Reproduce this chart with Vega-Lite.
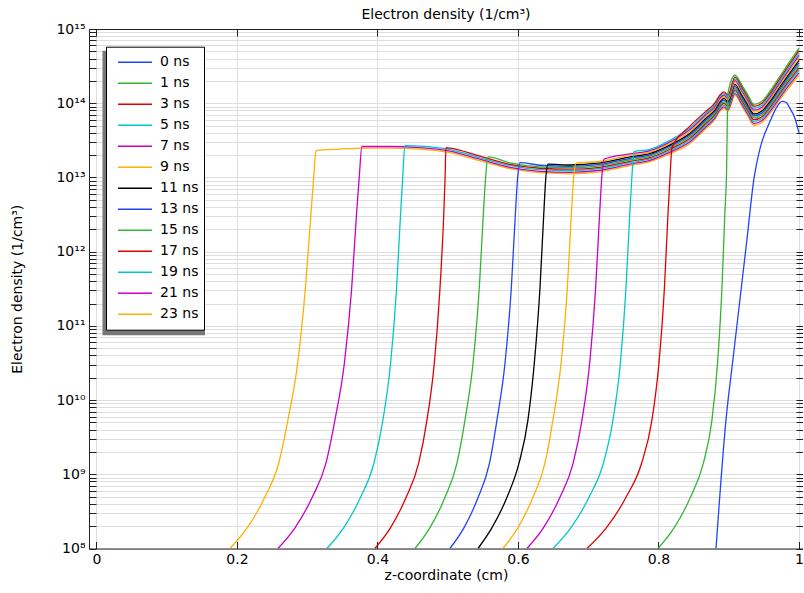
{
"$schema":"https://vega.github.io/schema/vega-lite/v6.json",
"width":714,"height":519.5,
"autosize":{"type":"none"},
"padding":{"left":89,"top":29,"right":0,"bottom":44.5},
"background":"white",
"title":{"text":"Electron density (1/cm³)","font":"DejaVu Sans","fontSize":14,"fontWeight":"normal","color":"#000","offset":0},
"config":{
 "font":"DejaVu Sans",
 "view":{"stroke":null},
 "axis":{"labelFont":"DejaVu Sans","labelFontSize":14,"labelColor":"#000","titleFont":"DejaVu Sans","titleFontSize":14,"titleFontWeight":"normal","titleColor":"#000","domainColor":"#222","domainWidth":1,"tickColor":"#222","tickWidth":1,"tickSize":-7,"labelPadding":11,"gridColor":"#dedede","gridWidth":1,"labelOverlap":false,"labelFlush":false},
 "legend":{"orient":"none","legendX":17,"legendY":17.7,"symbolType":"stroke","symbolSize":1156,"symbolStrokeWidth":1.5,"symbolOffset":6,"labelOffset":7,"labelFont":"DejaVu Sans","labelFontSize":14,"labelColor":"#000","clipHeight":21,"rowPadding":0,"padding":5,"fillColor":"white","strokeColor":"#000"}
},
"datasets":{"d":[
{"t":"23 ns","z":0.19,"n":1e8},{"t":"23 ns","z":0.2149,"n":1.91e8},{"t":"23 ns","z":0.2397,"n":4.9e8},{"t":"23 ns","z":0.2595,"n":1.41e9},{"t":"23 ns","z":0.2726,"n":5.37e9},{"t":"23 ns","z":0.2865,"n":3.16e10},{"t":"23 ns","z":0.2974,"n":3.16e11},{"t":"23 ns","z":0.3053,"n":3.16e12},{"t":"23 ns","z":0.3093,"n":1e13},{"t":"23 ns","z":0.3125,"n":2.3e13},{"t":"23 ns","z":0.3466,"n":2.41e13},{"t":"23 ns","z":0.3779,"n":2.49e13},{"t":"23 ns","z":0.4178,"n":2.49e13},{"t":"23 ns","z":0.4605,"n":2.41e13},{"t":"23 ns","z":0.5032,"n":2.16e13},{"t":"23 ns","z":0.5459,"n":1.68e13},{"t":"23 ns","z":0.5886,"n":1.31e13},{"t":"23 ns","z":0.6313,"n":1.16e13},{"t":"23 ns","z":0.674,"n":1.12e13},{"t":"23 ns","z":0.7167,"n":1.19e13},{"t":"23 ns","z":0.7594,"n":1.44e13},{"t":"23 ns","z":0.7879,"n":1.63e13},{"t":"23 ns","z":0.8164,"n":2.09e13},{"t":"23 ns","z":0.8448,"n":2.86e13},{"t":"23 ns","z":0.8662,"n":4.43e13},{"t":"23 ns","z":0.8804,"n":6.04e13},{"t":"23 ns","z":0.8875,"n":7.76e13},{"t":"23 ns","z":0.8932,"n":8.51e13},{"t":"23 ns","z":0.8989,"n":7.76e13},{"t":"23 ns","z":0.9089,"n":1.28e14},{"t":"23 ns","z":0.9189,"n":9.06e13},{"t":"23 ns","z":0.9274,"n":6.64e13},{"t":"23 ns","z":0.9359,"n":5.01e13},{"t":"23 ns","z":0.9473,"n":5.51e13},{"t":"23 ns","z":0.9587,"n":7.29e13},{"t":"23 ns","z":0.973,"n":1.13e14},{"t":"23 ns","z":0.9872,"n":1.69e14},{"t":"23 ns","z":1.0,"n":2.38e14},
{"t":"21 ns","z":0.2584,"n":1e8},{"t":"21 ns","z":0.2829,"n":1.91e8},{"t":"21 ns","z":0.3072,"n":4.9e8},{"t":"21 ns","z":0.3267,"n":1.41e9},{"t":"21 ns","z":0.3395,"n":5.37e9},{"t":"21 ns","z":0.353,"n":3.16e10},{"t":"21 ns","z":0.3633,"n":3.16e11},{"t":"21 ns","z":0.3702,"n":3.16e12},{"t":"21 ns","z":0.3741,"n":1e13},{"t":"21 ns","z":0.3779,"n":2.61e13},{"t":"21 ns","z":0.4178,"n":2.61e13},{"t":"21 ns","z":0.4605,"n":2.52e13},{"t":"21 ns","z":0.5032,"n":2.26e13},{"t":"21 ns","z":0.5459,"n":1.76e13},{"t":"21 ns","z":0.5886,"n":1.37e13},{"t":"21 ns","z":0.6313,"n":1.21e13},{"t":"21 ns","z":0.674,"n":1.17e13},{"t":"21 ns","z":0.7167,"n":1.25e13},{"t":"21 ns","z":0.7594,"n":1.51e13},{"t":"21 ns","z":0.7879,"n":1.7e13},{"t":"21 ns","z":0.8164,"n":2.19e13},{"t":"21 ns","z":0.8448,"n":3.02e13},{"t":"21 ns","z":0.8662,"n":4.67e13},{"t":"21 ns","z":0.8804,"n":6.35e13},{"t":"21 ns","z":0.8875,"n":8.17e13},{"t":"21 ns","z":0.8932,"n":8.95e13},{"t":"21 ns","z":0.8989,"n":8.17e13},{"t":"21 ns","z":0.9089,"n":1.35e14},{"t":"21 ns","z":0.9189,"n":9.62e13},{"t":"21 ns","z":0.9274,"n":7.05e13},{"t":"21 ns","z":0.9359,"n":5.32e13},{"t":"21 ns","z":0.9473,"n":5.85e13},{"t":"21 ns","z":0.9587,"n":7.76e13},{"t":"21 ns","z":0.973,"n":1.2e14},{"t":"21 ns","z":0.9872,"n":1.82e14},{"t":"21 ns","z":1.0,"n":2.57e14},
{"t":"19 ns","z":0.3281,"n":1e8},{"t":"19 ns","z":0.3521,"n":1.91e8},{"t":"19 ns","z":0.376,"n":4.9e8},{"t":"19 ns","z":0.3951,"n":1.41e9},{"t":"19 ns","z":0.4078,"n":5.37e9},{"t":"19 ns","z":0.4188,"n":3.16e10},{"t":"19 ns","z":0.4272,"n":3.16e11},{"t":"19 ns","z":0.4329,"n":3.16e12},{"t":"19 ns","z":0.436,"n":1e13},{"t":"19 ns","z":0.4391,"n":2.68e13},{"t":"19 ns","z":0.4605,"n":2.64e13},{"t":"19 ns","z":0.5032,"n":2.37e13},{"t":"19 ns","z":0.5459,"n":1.84e13},{"t":"19 ns","z":0.5886,"n":1.44e13},{"t":"19 ns","z":0.6313,"n":1.27e13},{"t":"19 ns","z":0.674,"n":1.23e13},{"t":"19 ns","z":0.7167,"n":1.31e13},{"t":"19 ns","z":0.7594,"n":1.58e13},{"t":"19 ns","z":0.7879,"n":1.78e13},{"t":"19 ns","z":0.8164,"n":2.29e13},{"t":"19 ns","z":0.8448,"n":3.19e13},{"t":"19 ns","z":0.8662,"n":4.93e13},{"t":"19 ns","z":0.8804,"n":6.68e13},{"t":"19 ns","z":0.8875,"n":8.59e13},{"t":"19 ns","z":0.8932,"n":9.42e13},{"t":"19 ns","z":0.8989,"n":8.59e13},{"t":"19 ns","z":0.9089,"n":1.43e14},{"t":"19 ns","z":0.9189,"n":1.02e14},{"t":"19 ns","z":0.9274,"n":7.48e13},{"t":"19 ns","z":0.9359,"n":5.65e13},{"t":"19 ns","z":0.9473,"n":6.21e13},{"t":"19 ns","z":0.9587,"n":8.26e13},{"t":"19 ns","z":0.973,"n":1.29e14},{"t":"19 ns","z":0.9872,"n":1.95e14},{"t":"19 ns","z":1.0,"n":2.78e14},
{"t":"17 ns","z":0.3964,"n":1e8},{"t":"17 ns","z":0.4187,"n":1.91e8},{"t":"17 ns","z":0.4409,"n":4.9e8},{"t":"17 ns","z":0.4587,"n":1.41e9},{"t":"17 ns","z":0.4705,"n":5.37e9},{"t":"17 ns","z":0.481,"n":3.16e10},{"t":"17 ns","z":0.489,"n":3.16e11},{"t":"17 ns","z":0.4944,"n":3.16e12},{"t":"17 ns","z":0.4963,"n":1e13},{"t":"17 ns","z":0.4975,"n":2.51e13},{"t":"17 ns","z":0.5032,"n":2.48e13},{"t":"17 ns","z":0.5459,"n":1.93e13},{"t":"17 ns","z":0.5886,"n":1.5e13},{"t":"17 ns","z":0.6313,"n":1.33e13},{"t":"17 ns","z":0.674,"n":1.29e13},{"t":"17 ns","z":0.7167,"n":1.37e13},{"t":"17 ns","z":0.7594,"n":1.65e13},{"t":"17 ns","z":0.7879,"n":1.85e13},{"t":"17 ns","z":0.8164,"n":2.4e13},{"t":"17 ns","z":0.8448,"n":3.37e13},{"t":"17 ns","z":0.8662,"n":5.2e13},{"t":"17 ns","z":0.8804,"n":7.05e13},{"t":"17 ns","z":0.8875,"n":9.06e13},{"t":"17 ns","z":0.8932,"n":9.93e13},{"t":"17 ns","z":0.8989,"n":9.06e13},{"t":"17 ns","z":0.9089,"n":1.51e14},{"t":"17 ns","z":0.9189,"n":1.08e14},{"t":"17 ns","z":0.9274,"n":7.94e13},{"t":"17 ns","z":0.9359,"n":6.0e13},{"t":"17 ns","z":0.9473,"n":6.59e13},{"t":"17 ns","z":0.9587,"n":8.79e13},{"t":"17 ns","z":0.973,"n":1.37e14},{"t":"17 ns","z":0.9872,"n":2.09e14},{"t":"17 ns","z":1.0,"n":3.0e14},
{"t":"15 ns","z":0.4534,"n":1e8},{"t":"15 ns","z":0.4748,"n":1.91e8},{"t":"15 ns","z":0.4962,"n":4.9e8},{"t":"15 ns","z":0.5132,"n":1.41e9},{"t":"15 ns","z":0.5246,"n":5.37e9},{"t":"15 ns","z":0.5361,"n":3.16e10},{"t":"15 ns","z":0.5449,"n":3.16e11},{"t":"15 ns","z":0.5507,"n":3.16e12},{"t":"15 ns","z":0.554,"n":1e13},{"t":"15 ns","z":0.5573,"n":1.89e13},{"t":"15 ns","z":0.5886,"n":1.57e13},{"t":"15 ns","z":0.6313,"n":1.39e13},{"t":"15 ns","z":0.674,"n":1.35e13},{"t":"15 ns","z":0.7167,"n":1.43e13},{"t":"15 ns","z":0.7594,"n":1.73e13},{"t":"15 ns","z":0.7879,"n":1.94e13},{"t":"15 ns","z":0.8164,"n":2.51e13},{"t":"15 ns","z":0.8448,"n":3.56e13},{"t":"15 ns","z":0.8662,"n":5.5e13},{"t":"15 ns","z":0.8804,"n":7.41e13},{"t":"15 ns","z":0.8875,"n":9.53e13},{"t":"15 ns","z":0.8932,"n":1.04e14},{"t":"15 ns","z":0.8989,"n":9.53e13},{"t":"15 ns","z":0.9089,"n":1.6e14},{"t":"15 ns","z":0.9189,"n":1.15e14},{"t":"15 ns","z":0.9274,"n":8.41e13},{"t":"15 ns","z":0.9359,"n":6.35e13},{"t":"15 ns","z":0.9473,"n":6.98e13},{"t":"15 ns","z":0.9587,"n":9.35e13},{"t":"15 ns","z":0.973,"n":1.46e14},{"t":"15 ns","z":0.9872,"n":2.24e14},{"t":"15 ns","z":1.0,"n":3.24e14},
{"t":"13 ns","z":0.5032,"n":1e8},{"t":"13 ns","z":0.5233,"n":1.91e8},{"t":"13 ns","z":0.5434,"n":4.9e8},{"t":"13 ns","z":0.5595,"n":1.41e9},{"t":"13 ns","z":0.5701,"n":5.37e9},{"t":"13 ns","z":0.5816,"n":3.16e10},{"t":"13 ns","z":0.5905,"n":3.16e11},{"t":"13 ns","z":0.5963,"n":3.16e12},{"t":"13 ns","z":0.5996,"n":1e13},{"t":"13 ns","z":0.6028,"n":1.58e13},{"t":"13 ns","z":0.6313,"n":1.46e13},{"t":"13 ns","z":0.674,"n":1.41e13},{"t":"13 ns","z":0.7167,"n":1.5e13},{"t":"13 ns","z":0.7594,"n":1.81e13},{"t":"13 ns","z":0.7879,"n":2.02e13},{"t":"13 ns","z":0.8164,"n":2.63e13},{"t":"13 ns","z":0.8448,"n":3.75e13},{"t":"13 ns","z":0.8662,"n":5.79e13},{"t":"13 ns","z":0.8804,"n":7.8e13},{"t":"13 ns","z":0.8875,"n":1.0e14},{"t":"13 ns","z":0.8932,"n":1.1e14},{"t":"13 ns","z":0.8989,"n":1.0e14},{"t":"13 ns","z":0.9089,"n":1.69e14},{"t":"13 ns","z":0.9189,"n":1.22e14},{"t":"13 ns","z":0.9274,"n":8.93e13},{"t":"13 ns","z":0.9359,"n":6.75e13},{"t":"13 ns","z":0.9473,"n":7.41e13},{"t":"13 ns","z":0.9587,"n":9.98e13},{"t":"13 ns","z":0.973,"n":1.56e14},{"t":"13 ns","z":0.9872,"n":2.41e14},{"t":"13 ns","z":1.0,"n":3.5e14},
{"t":"11 ns","z":0.5431,"n":1e8},{"t":"11 ns","z":0.5631,"n":1.91e8},{"t":"11 ns","z":0.5844,"n":4.9e8},{"t":"11 ns","z":0.6015,"n":1.41e9},{"t":"11 ns","z":0.6142,"n":5.37e9},{"t":"11 ns","z":0.6233,"n":3.16e10},{"t":"11 ns","z":0.6313,"n":3.16e11},{"t":"11 ns","z":0.6367,"n":3.16e12},{"t":"11 ns","z":0.6397,"n":1e13},{"t":"11 ns","z":0.6427,"n":1.51e13},{"t":"11 ns","z":0.674,"n":1.47e13},{"t":"11 ns","z":0.7167,"n":1.57e13},{"t":"11 ns","z":0.7594,"n":1.89e13},{"t":"11 ns","z":0.7879,"n":2.11e13},{"t":"11 ns","z":0.8164,"n":2.75e13},{"t":"11 ns","z":0.8448,"n":3.95e13},{"t":"11 ns","z":0.8662,"n":6.11e13},{"t":"11 ns","z":0.8804,"n":8.2e13},{"t":"11 ns","z":0.8875,"n":1.05e14},{"t":"11 ns","z":0.8932,"n":1.16e14},{"t":"11 ns","z":0.8989,"n":1.05e14},{"t":"11 ns","z":0.9089,"n":1.79e14},{"t":"11 ns","z":0.9189,"n":1.29e14},{"t":"11 ns","z":0.9274,"n":9.48e13},{"t":"11 ns","z":0.9359,"n":7.16e13},{"t":"11 ns","z":0.9473,"n":7.87e13},{"t":"11 ns","z":0.9587,"n":1.06e14},{"t":"11 ns","z":0.973,"n":1.67e14},{"t":"11 ns","z":0.9872,"n":2.58e14},{"t":"11 ns","z":1.0,"n":3.78e14},
{"t":"9 ns","z":0.5786,"n":1e8},{"t":"9 ns","z":0.6,"n":1.91e8},{"t":"9 ns","z":0.6214,"n":4.9e8},{"t":"9 ns","z":0.6384,"n":1.41e9},{"t":"9 ns","z":0.6498,"n":5.37e9},{"t":"9 ns","z":0.6614,"n":3.16e10},{"t":"9 ns","z":0.6702,"n":3.16e11},{"t":"9 ns","z":0.676,"n":3.16e12},{"t":"9 ns","z":0.6793,"n":1e13},{"t":"9 ns","z":0.6826,"n":1.56e13},{"t":"9 ns","z":0.7167,"n":1.64e13},{"t":"9 ns","z":0.7594,"n":1.98e13},{"t":"9 ns","z":0.7879,"n":2.2e13},{"t":"9 ns","z":0.8164,"n":2.88e13},{"t":"9 ns","z":0.8448,"n":4.17e13},{"t":"9 ns","z":0.8662,"n":6.44e13},{"t":"9 ns","z":0.8804,"n":8.63e13},{"t":"9 ns","z":0.8875,"n":1.11e14},{"t":"9 ns","z":0.8932,"n":1.22e14},{"t":"9 ns","z":0.8989,"n":1.11e14},{"t":"9 ns","z":0.9089,"n":1.9e14},{"t":"9 ns","z":0.9189,"n":1.37e14},{"t":"9 ns","z":0.9274,"n":1.01e14},{"t":"9 ns","z":0.9359,"n":7.6e13},{"t":"9 ns","z":0.9473,"n":8.36e13},{"t":"9 ns","z":0.9587,"n":1.13e14},{"t":"9 ns","z":0.973,"n":1.78e14},{"t":"9 ns","z":0.9872,"n":2.77e14},{"t":"9 ns","z":1.0,"n":4.07e14},
{"t":"7 ns","z":0.6128,"n":1e8},{"t":"7 ns","z":0.6364,"n":1.91e8},{"t":"7 ns","z":0.6598,"n":4.9e8},{"t":"7 ns","z":0.6786,"n":1.41e9},{"t":"7 ns","z":0.6911,"n":5.37e9},{"t":"7 ns","z":0.7021,"n":3.16e10},{"t":"7 ns","z":0.7105,"n":3.16e11},{"t":"7 ns","z":0.7162,"n":3.16e12},{"t":"7 ns","z":0.7193,"n":1e13},{"t":"7 ns","z":0.7224,"n":1.76e13},{"t":"7 ns","z":0.7594,"n":2.07e13},{"t":"7 ns","z":0.7879,"n":2.3e13},{"t":"7 ns","z":0.8164,"n":3.01e13},{"t":"7 ns","z":0.8448,"n":4.41e13},{"t":"7 ns","z":0.8662,"n":6.81e13},{"t":"7 ns","z":0.8804,"n":9.08e13},{"t":"7 ns","z":0.8875,"n":1.17e14},{"t":"7 ns","z":0.8932,"n":1.28e14},{"t":"7 ns","z":0.8989,"n":1.17e14},{"t":"7 ns","z":0.9089,"n":2.01e14},{"t":"7 ns","z":0.9189,"n":1.46e14},{"t":"7 ns","z":0.9274,"n":1.07e14},{"t":"7 ns","z":0.9359,"n":8.05e13},{"t":"7 ns","z":0.9473,"n":8.85e13},{"t":"7 ns","z":0.9587,"n":1.2e14},{"t":"7 ns","z":0.973,"n":1.9e14},{"t":"7 ns","z":0.9872,"n":2.98e14},{"t":"7 ns","z":1.0,"n":4.4e14},
{"t":"5 ns","z":0.6498,"n":1e8},{"t":"5 ns","z":0.6755,"n":1.91e8},{"t":"5 ns","z":0.7011,"n":4.9e8},{"t":"5 ns","z":0.7216,"n":1.41e9},{"t":"5 ns","z":0.7352,"n":5.37e9},{"t":"5 ns","z":0.7458,"n":3.16e10},{"t":"5 ns","z":0.7537,"n":3.16e11},{"t":"5 ns","z":0.7591,"n":3.16e12},{"t":"5 ns","z":0.7621,"n":1e13},{"t":"5 ns","z":0.7651,"n":2.23e13},{"t":"5 ns","z":0.7879,"n":2.39e13},{"t":"5 ns","z":0.8164,"n":3.16e13},{"t":"5 ns","z":0.8448,"n":4.65e13},{"t":"5 ns","z":0.8662,"n":7.18e13},{"t":"5 ns","z":0.8804,"n":9.57e13},{"t":"5 ns","z":0.8875,"n":1.23e14},{"t":"5 ns","z":0.8932,"n":1.35e14},{"t":"5 ns","z":0.8989,"n":1.23e14},{"t":"5 ns","z":0.9089,"n":2.13e14},{"t":"5 ns","z":0.9189,"n":1.55e14},{"t":"5 ns","z":0.9274,"n":1.13e14},{"t":"5 ns","z":0.9359,"n":8.55e13},{"t":"5 ns","z":0.9473,"n":9.4e13},{"t":"5 ns","z":0.9587,"n":1.28e14},{"t":"5 ns","z":0.973,"n":2.02e14},{"t":"5 ns","z":0.9872,"n":3.19e14},{"t":"5 ns","z":1.0,"n":4.74e14},
{"t":"3 ns","z":0.6982,"n":1e8},{"t":"3 ns","z":0.726,"n":1.91e8},{"t":"3 ns","z":0.7538,"n":4.9e8},{"t":"3 ns","z":0.776,"n":1.41e9},{"t":"3 ns","z":0.7907,"n":5.37e9},{"t":"3 ns","z":0.8007,"n":3.16e10},{"t":"3 ns","z":0.8084,"n":3.16e11},{"t":"3 ns","z":0.8135,"n":3.16e12},{"t":"3 ns","z":0.8164,"n":1e13},{"t":"3 ns","z":0.8192,"n":2.51e13},{"t":"3 ns","z":0.8448,"n":4.91e13},{"t":"3 ns","z":0.8662,"n":7.59e13},{"t":"3 ns","z":0.8804,"n":1.01e14},{"t":"3 ns","z":0.8875,"n":1.29e14},{"t":"3 ns","z":0.8932,"n":1.42e14},{"t":"3 ns","z":0.8989,"n":1.29e14},{"t":"3 ns","z":0.9089,"n":2.25e14},{"t":"3 ns","z":0.9189,"n":1.64e14},{"t":"3 ns","z":0.9274,"n":1.2e14},{"t":"3 ns","z":0.9359,"n":9.08e13},{"t":"3 ns","z":0.9473,"n":9.98e13},{"t":"3 ns","z":0.9587,"n":1.36e14},{"t":"3 ns","z":0.973,"n":2.16e14},{"t":"3 ns","z":0.9872,"n":3.43e14},{"t":"3 ns","z":1.0,"n":5.13e14},
{"t":"1 ns","z":0.7993,"n":1e8},{"t":"1 ns","z":0.8224,"n":1.91e8},{"t":"1 ns","z":0.8455,"n":4.9e8},{"t":"1 ns","z":0.8639,"n":1.41e9},{"t":"1 ns","z":0.8761,"n":5.37e9},{"t":"1 ns","z":0.8841,"n":3.16e10},{"t":"1 ns","z":0.8903,"n":3.16e11},{"t":"1 ns","z":0.8944,"n":3.16e12},{"t":"1 ns","z":0.8967,"n":1e13},{"t":"1 ns","z":0.8989,"n":1.36e14},{"t":"1 ns","z":0.9089,"n":2.38e14},{"t":"1 ns","z":0.9189,"n":1.74e14},{"t":"1 ns","z":0.9274,"n":1.28e14},{"t":"1 ns","z":0.9359,"n":9.64e13},{"t":"1 ns","z":0.9473,"n":1.06e14},{"t":"1 ns","z":0.9587,"n":1.45e14},{"t":"1 ns","z":0.973,"n":2.31e14},{"t":"1 ns","z":0.9872,"n":3.68e14},{"t":"1 ns","z":1.0,"n":5.53e14},
{"t":"0 ns","z":0.8819,"n":1e8},{"t":"0 ns","z":0.8961,"n":5.41e9},{"t":"0 ns","z":0.906,"n":3.52e10},{"t":"0 ns","z":0.916,"n":2.28e11},{"t":"0 ns","z":0.926,"n":1.48e12},{"t":"0 ns","z":0.9359,"n":9.62e12},{"t":"0 ns","z":0.9445,"n":2.45e13},{"t":"0 ns","z":0.9587,"n":5.68e13},{"t":"0 ns","z":0.9673,"n":8.51e13},{"t":"0 ns","z":0.9758,"n":1.06e14},{"t":"0 ns","z":0.9815,"n":1.03e14},{"t":"0 ns","z":0.9872,"n":8.51e13},{"t":"0 ns","z":0.9943,"n":6.24e13},{"t":"0 ns","z":1.0,"n":3.98e13}
]},
"layer":[
 {"data":{"values":[{}]},
  "mark":{"type":"rect","color":"#777777"},
  "encoding":{
   "x":{"datum":0.0087,"type":"quantitative","scale":{"domain":[-0.0105,1.0057],"nice":false,"zero":false},"axis":{"orient":"top","labels":false,"title":null,"grid":false,"values":[0,0.2,0.4,0.6,0.8,1]}},
   "x2":{"datum":0.1546},
   "y":{"datum":5.1e14,"type":"quantitative","scale":{"type":"log","domain":[1e8,1e15],"nice":false},"axis":{"orient":"right","labels":false,"title":null,"grid":false,"values":[1e8,2e8,3e8,4e8,5e8,6e8,7e8,8e8,9e8,1e9,2e9,3e9,4e9,5e9,6e9,7e9,8e9,9e9,1e10,2e10,3e10,4e10,5e10,6e10,7e10,8e10,9e10,1e11,2e11,3e11,4e11,5e11,6e11,7e11,8e11,9e11,1e12,2e12,3e12,4e12,5e12,6e12,7e12,8e12,9e12,1e13,2e13,3e13,4e13,5e13,6e13,7e13,8e13,9e13,1e14,2e14,3e14,4e14,5e14,6e14,7e14,8e14,9e14,1e15]}},
   "y2":{"datum":7.5e10}
  }},
 {"data":{"name":"d"},
  "mark":{"type":"line","strokeWidth":1.3,"clip":true,"interpolate":"monotone"},
  "encoding":{
   "x":{"field":"z","type":"quantitative","scale":{"domain":[-0.0105,1.0057],"nice":false,"zero":false},"axis":{"orient":"bottom","title":"z-coordinate (cm)","titlePadding":2,"format":"~g","grid":true,"values":[0,0.2,0.4,0.6,0.8,1]}},
   "y":{"field":"n","type":"quantitative","scale":{"type":"log","domain":[1e8,1e15],"nice":false},"axis":{"orient":"left","title":"Electron density (1/cm³)","titlePadding":31,"grid":true,"values":[1e8,2e8,3e8,4e8,5e8,6e8,7e8,8e8,9e8,1e9,2e9,3e9,4e9,5e9,6e9,7e9,8e9,9e9,1e10,2e10,3e10,4e10,5e10,6e10,7e10,8e10,9e10,1e11,2e11,3e11,4e11,5e11,6e11,7e11,8e11,9e11,1e12,2e12,3e12,4e12,5e12,6e12,7e12,8e12,9e12,1e13,2e13,3e13,4e13,5e13,6e13,7e13,8e13,9e13,1e14,2e14,3e14,4e14,5e14,6e14,7e14,8e14,9e14,1e15],"labelExpr":"abs(log(datum.value)/LN10 - round(log(datum.value)/LN10)) < 0.001 ? '10' + ['⁸','⁹','¹⁰','¹¹','¹²','¹³','¹⁴','¹⁵'][round(log(datum.value)/LN10) - 8] : ''"}},
   "color":{"field":"t","type":"nominal","scale":{"domain":["0 ns","1 ns","3 ns","5 ns","7 ns","9 ns","11 ns","13 ns","15 ns","17 ns","19 ns","21 ns","23 ns"],"range":["#1f44ff","#33b533","#e00000","#00c8c8","#c800c8","#ffb000","#000000","#1f44ff","#33b533","#e00000","#00c8c8","#c800c8","#ffb000"]},"legend":{"title":null,"labelExpr":"datum.label + ' '"}}
  }}
],
"resolve":{"axis":{"x":"independent","y":"independent"}}
}
